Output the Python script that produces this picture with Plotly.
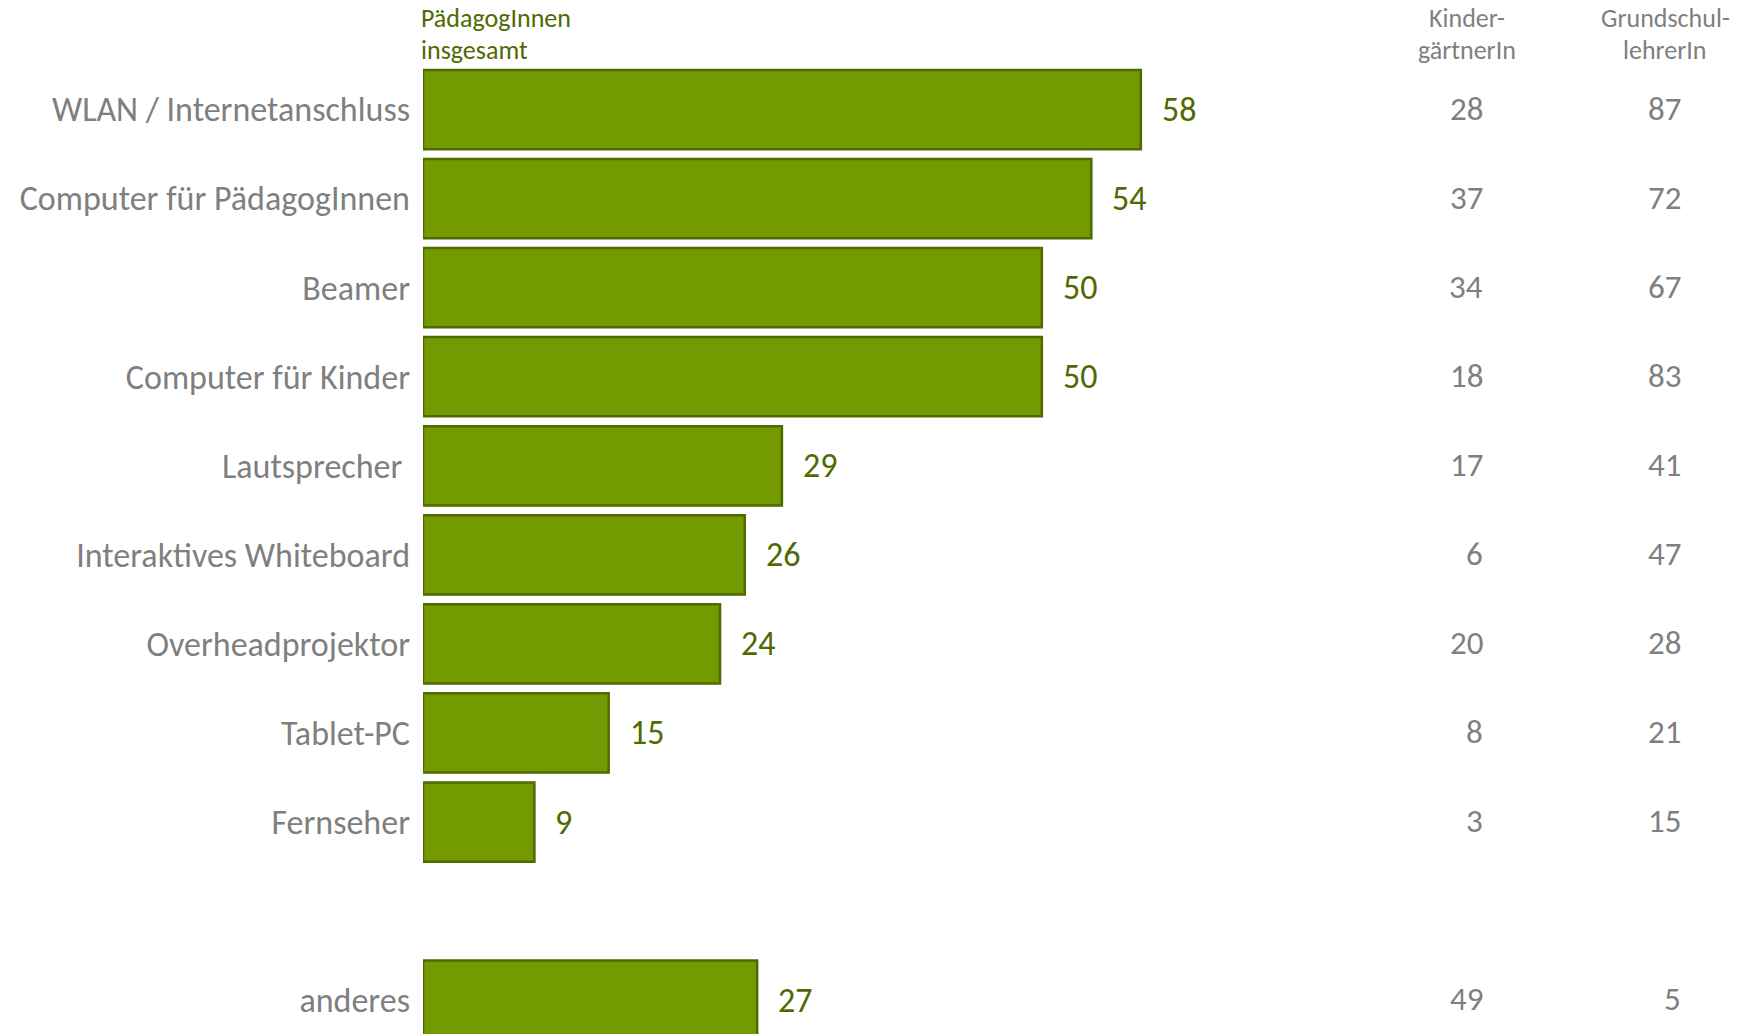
import plotly.graph_objects as go

# ---- data ----
categories = [
    "WLAN / Internetanschluss",
    "Computer für PädagogInnen",
    "Beamer",
    "Computer für Kinder",
    "Lautsprecher\u00a0",
    "Interaktives Whiteboard",
    "Overheadprojektor",
    "Tablet-PC",
    "Fernseher",
    " ",
    "anderes",
]
total = [58, 54, 50, 50, 29, 26, 24, 15, 9, None, 27]
kindergarten = [28, 37, 34, 18, 17, 6, 20, 8, 3, None, 49]
grundschule = [87, 72, 67, 83, 41, 47, 28, 21, 15, None, 5]

header_total = ["PädagogInnen", "insgesamt"]
header_kg = ["Kinder-", "gärtnerIn"]
header_gs = ["Grundschul-", "lehrerIn"]

# ---- styles ----
FONT = "Calibri, Carlito, Lato, sans-serif"
BAR = "#739a00"
BAR_LINE = "#4f6a00"
DARK_GREEN = "#4f6a00"
GREY = "#7f7f7f"

W, H = 1751, 1034
ML = 423
MT = 65
PLOT_H = H - MT

fig = go.Figure()
fig.add_trace(go.Bar(
    y=categories, x=total, orientation="h",
    marker=dict(color=BAR, line=dict(color=BAR_LINE, width=2.5)),
    hoverinfo="x+y",
))

annotations = []
for c, v in zip(categories, total):
    if v is None:
        continue
    annotations.append(dict(
        x=v, y=c, xref="x", yref="y", text=str(v), showarrow=False,
        xanchor="left", yanchor="middle", xshift=19,
        font=dict(family=FONT, size=34, color=DARK_GREEN),
    ))

col_kg_x = 0.7995
col_gs_x = 0.949
for c, a, b in zip(categories, kindergarten, grundschule):
    if a is None:
        continue
    annotations.append(dict(
        x=col_kg_x, y=c, xref="paper", yref="y", text=str(a), showarrow=False,
        xanchor="right", yanchor="middle", yshift=1,
        font=dict(family=FONT, size=33, color=GREY),
    ))
    annotations.append(dict(
        x=col_gs_x, y=c, xref="paper", yref="y", text=str(b), showarrow=False,
        xanchor="right", yanchor="middle", yshift=1,
        font=dict(family=FONT, size=33, color=GREY),
    ))

line_py = [18, 50]  # header line centres, pixels from top
for i, py in enumerate(line_py):
    yp = (H - py) / PLOT_H
    annotations.append(dict(
        x=0, y=yp, xref="paper", yref="paper", text=header_total[i], showarrow=False,
        xanchor="left", yanchor="middle", xshift=-4,
        font=dict(family=FONT, size=26, color=DARK_GREEN),
    ))
    annotations.append(dict(
        x=0.786, y=yp, xref="paper", yref="paper", text=header_kg[i], showarrow=False,
        xanchor="center", yanchor="middle",
        font=dict(family=FONT, size=26, color=GREY),
    ))
    annotations.append(dict(
        x=0.9355, y=yp, xref="paper", yref="paper", text=header_gs[i], showarrow=False,
        xanchor="center", yanchor="middle",
        font=dict(family=FONT, size=26, color=GREY),
    ))

fig.update_layout(
    width=W, height=H,
    margin=dict(l=ML, r=0, t=MT, b=0, pad=0),
    paper_bgcolor="white", plot_bgcolor="white",
    showlegend=False,
    bargap=0.11,
    annotations=annotations,
    xaxis=dict(range=[0, 107.3], visible=False, fixedrange=True),
    yaxis=dict(
        type="category", categoryorder="array", categoryarray=categories,
        range=[10.38, -0.5],
        showgrid=False, zeroline=False, showline=False, ticks="",
        ticklabelstandoff=12,
        tickfont=dict(family=FONT, size=34, color=GREY),
        fixedrange=True,
    ),
)

fig.write_html("out.html", config={"displayModeBar": False},
               post_script="document.body.style.margin='0';")
